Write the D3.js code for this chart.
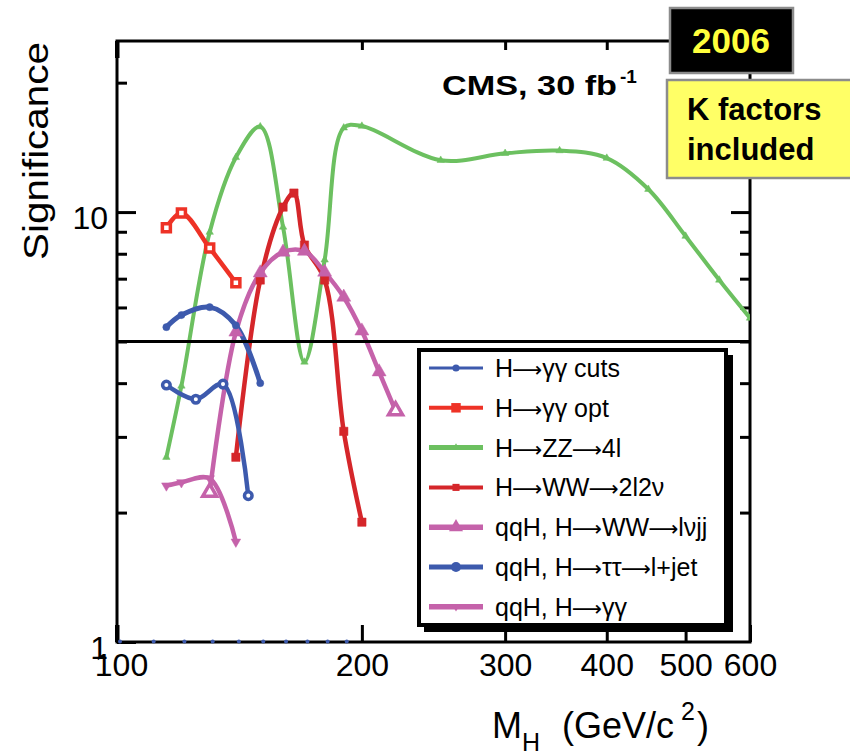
<!DOCTYPE html>
<html>
<head>
<meta charset="utf-8">
<script src="https://cdn.jsdelivr.net/npm/d3@7"></script>
<style>
  body { margin: 0; background: #fff; }
  svg { display: block; font-family: "Liberation Sans", Arial, Helvetica, sans-serif; }
</style>
</head>
<body>
<svg id="chart" width="850" height="753"></svg>
<script>
// ---- Discovery significance vs Higgs mass, CMS 30 fb^-1 ----

// H -> gamma gamma, cut-based
const massGgCuts = [115, 120, 130, 140, 150];
const sigGgCuts  = [5.40, 5.76, 6.01, 5.45, 4.00];

// H -> gamma gamma, optimised
const massGgOpt = [115, 120, 130, 140];
const sigGgOpt  = [9.2, 9.95, 8.25, 6.85];

// H -> ZZ -> 4l
const massZZ = [115, 120, 130, 140, 150, 160, 170, 180, 190, 200, 250, 300, 350, 400, 450, 500, 550, 600];
const sigZZ  = [2.69, 3.94, 8.98, 13.4, 15.8, 9.23, 4.48, 7.74, 15.7, 15.85, 13.2, 13.7, 13.9, 13.35, 11.3, 8.79, 6.95, 5.67];

// H -> WW -> 2l2nu
const massWW = [140, 150, 160, 165, 170, 180, 190, 200];
const sigWW  = [2.69, 6.95, 10.27, 11.07, 8.38, 6.95, 3.09, 1.90];

// qqH, H -> WW -> l nu jj
const massQqWW = [130, 140, 150, 160, 170, 180, 190, 200, 210, 220];
const sigQqWW  = [2.23, 5.26, 7.22, 8.07, 8.11, 7.25, 6.34, 5.29, 4.25, 3.45];

// qqH, H -> tau tau -> l + jet
const massQqTT = [115, 125, 135, 145];
const sigQqTT  = [3.96, 3.67, 3.98, 2.19];

// qqH, H -> gamma gamma
const massQqGg = [115, 120, 130, 140];
const sigQqGg  = [2.31, 2.35, 2.40, 1.71];

// points sitting on the lower edge of the plot
const massFloor = [100, 110, 120, 130, 140, 150, 160, 170, 180, 190];
const sigFloor  = [1, 1, 1, 1, 1, 1, 1, 1, 1, 1];

// axis ticks
const xTickValues = [100, 200, 300, 400, 500, 600];
const yMajorTicks = [1, 10];
const yMinorTicks = [2, 3, 4, 5, 6, 7, 8, 9, 20];
const discoveryLevel = 5;

// legend labels, split around the arrows so the arrows can be drawn long
const legendLabels = [
  ["H", "\u03b3\u03b3 cuts"],
  ["H", "\u03b3\u03b3 opt"],
  ["H", "ZZ", "4l"],
  ["H", "WW", "2l2\u03bd"],
  ["qqH, H", "WW", "l\u03bdjj"],
  ["qqH, H", "\u03c4\u03c4", "l+jet"],
  ["qqH, H", "\u03b3\u03b3"]
];

// ---- styling per series ----
const BLUE = "#3d5aad", RED = "#ee3226", GREEN = "#6cc060", DKRED = "#d5262a", MAG = "#c562aa";

const series = [
  { key: 2, m: massZZ,    s: sigZZ,    color: GREEN, lw: 4,   sym: d3.symbolTriangle, size: 24, rot: 0,   open: [],        legLw: 5,   legSize: 24 },
  { key: 3, m: massWW,    s: sigWW,    color: DKRED, lw: 4.5, sym: d3.symbolSquare,   size: 70, rot: 0,   open: [],        legLw: 4,   legSize: 50 },
  { key: 4, m: massQqWW,  s: sigQqWW,  color: MAG,   lw: 4.5, sym: d3.symbolTriangle, size: 85, rot: 0,   open: [0, 9],    legLw: 5.5, legSize: 85 },
  { key: 6, m: massQqGg,  s: sigQqGg,  color: MAG,   lw: 4.5, sym: d3.symbolTriangle, size: 40, rot: 180, open: [],        legLw: 5.5, legSize: 30 },
  { key: 5, m: massQqTT,  s: sigQqTT,  color: BLUE,  lw: 4.5, sym: d3.symbolCircle,   size: 45, rot: 0,   open: [0,1,2,3], legLw: 5,   legSize: 80 },
  { key: 0, m: massGgCuts,s: sigGgCuts,color: BLUE,  lw: 5,   sym: d3.symbolCircle,   size: 40, rot: 0,   open: [],        legLw: 3,   legSize: 40 },
  { key: 1, m: massGgOpt, s: sigGgOpt, color: RED,   lw: 4.5, sym: d3.symbolSquare,   size: 64, rot: 0,   open: [0,1,2,3], legLw: 4,   legSize: 90 }
];

// ---- geometry ----
const frame = { left: 117, right: 750, top: 41, bottom: 642 };
const x = d3.scaleLog().domain([100, 600]).range([frame.left, frame.right]);
const y = d3.scaleLog().domain([1, 25]).range([frame.bottom, frame.top]);

const svg = d3.select("#chart");

svg.append("defs").append("clipPath").attr("id", "plotClip")
  .append("rect")
  .attr("x", frame.left).attr("y", frame.top)
  .attr("width", frame.right - frame.left).attr("height", frame.bottom - frame.top);

// ---- axes ----
const bottomAxis = d3.axisBottom(x).tickValues(xTickValues)
  .tickSizeInner(-17).tickSizeOuter(0).tickPadding(11).tickFormat(d3.format("d"));
const gx = svg.append("g").attr("transform", `translate(0,${frame.bottom})`).call(bottomAxis);
gx.select(".domain").remove();
gx.selectAll(".tick line").attr("stroke", "#000").attr("stroke-width", 3);
gx.selectAll(".tick text").attr("font-size", 32).attr("fill", "#000")
  .attr("font-family", "Liberation Sans, Arial, sans-serif")
  .attr("dx", d => d === 100 ? 4 : 0);

const topAxis = d3.axisTop(x).tickValues([200, 300, 400, 500])
  .tickSizeInner(-9).tickSizeOuter(0).tickFormat("");
const gxt = svg.append("g").attr("transform", `translate(0,${frame.top})`).call(topAxis);
gxt.select(".domain").remove();
gxt.selectAll(".tick line").attr("stroke", "#000").attr("stroke-width", 3);

const leftMajor = d3.axisLeft(y).tickValues(yMajorTicks)
  .tickSizeInner(-19).tickSizeOuter(0).tickPadding(9).tickFormat(d3.format("d"));
const gy = svg.append("g").attr("transform", `translate(${frame.left},0)`).call(leftMajor);
gy.select(".domain").remove();
gy.selectAll(".tick line").attr("stroke", "#000").attr("stroke-width", 3);
gy.selectAll(".tick text").attr("font-size", 32).attr("fill", "#000").attr("dy", "0.5em")
  .attr("font-family", "Liberation Sans, Arial, sans-serif");

const leftMinor = d3.axisLeft(y).tickValues(yMinorTicks).tickSizeInner(-10).tickSizeOuter(0).tickFormat("");
const gym = svg.append("g").attr("transform", `translate(${frame.left},0)`).call(leftMinor);
gym.select(".domain").remove();
gym.selectAll(".tick line").attr("stroke", "#000").attr("stroke-width", 3);

const rightMajor = d3.axisRight(y).tickValues([10]).tickSizeInner(-19).tickSizeOuter(0).tickFormat("");
const gyr = svg.append("g").attr("transform", `translate(${frame.right},0)`).call(rightMajor);
gyr.select(".domain").remove();
gyr.selectAll(".tick line").attr("stroke", "#000").attr("stroke-width", 3);

const rightMinor = d3.axisRight(y).tickValues(yMinorTicks).tickSizeInner(-10).tickSizeOuter(0).tickFormat("");
const gyrm = svg.append("g").attr("transform", `translate(${frame.right},0)`).call(rightMinor);
gyrm.select(".domain").remove();
gyrm.selectAll(".tick line").attr("stroke", "#000").attr("stroke-width", 3);

// heavier corner marks at M = 100 on top and bottom
svg.append("rect").attr("x", frame.left - 2).attr("y", frame.top).attr("width", 4.5).attr("height", 17).attr("fill", "#000");
svg.append("rect").attr("x", frame.left - 2).attr("y", frame.bottom - 17).attr("width", 4.5).attr("height", 17).attr("fill", "#000");

// frame
svg.append("rect")
  .attr("x", frame.left).attr("y", frame.top)
  .attr("width", frame.right - frame.left).attr("height", frame.bottom - frame.top)
  .attr("fill", "none").attr("stroke", "#000").attr("stroke-width", 3);

// ---- curves ----
const plot = svg.append("g").attr("clip-path", "url(#plotClip)");
const line = d3.line()
  .x(d => x(d[0])).y(d => y(d[1]))
  .curve(d3.curveCatmullRom.alpha(0.5));

series.forEach(sr => {
  const pts = sr.m.map((m, i) => [m, sr.s[i]]);
  plot.append("path").datum(pts)
    .attr("d", line)
    .attr("fill", "none")
    .attr("stroke", sr.color)
    .attr("stroke-width", sr.lw)
    .attr("stroke-linejoin", "round")
    .attr("stroke-linecap", "round");
});

// 5 sigma line
svg.append("line")
  .attr("x1", frame.left).attr("x2", frame.right)
  .attr("y1", y(discoveryLevel)).attr("y2", y(discoveryLevel))
  .attr("stroke", "#000").attr("stroke-width", 3);

// markers
series.forEach(sr => {
  const sym = d3.symbol().type(sr.sym).size(sr.size);
  plot.selectAll(null).data(sr.m.map((m, i) => ({ m, s: sr.s[i], i })))
    .join("path")
    .attr("d", sym)
    .attr("transform", d => `translate(${x(d.m)},${y(d.s)}) rotate(${sr.rot})`)
    .attr("fill", d => sr.open.includes(d.i) ? "#fff" : sr.color)
    .attr("stroke", sr.color)
    .attr("stroke-width", d => sr.open.includes(d.i) ? 3.5 : 0.5);
});

// dots along the lower edge
svg.selectAll(null).data(massFloor.map((m, i) => ({ m, s: sigFloor[i] })))
  .join("circle")
  .attr("cx", d => x(d.m) + 3).attr("cy", d => y(d.s) - 0.5)
  .attr("r", 2).attr("fill", BLUE);

// ---- legend ----
const leg = { x: 419, y: 350, w: 307, h: 275 };
svg.append("rect").attr("x", leg.x + 5).attr("y", leg.y + 5).attr("width", leg.w + 2).attr("height", leg.h + 2).attr("fill", "#000");
svg.append("rect").attr("x", leg.x).attr("y", leg.y).attr("width", leg.w).attr("height", leg.h)
  .attr("fill", "#fff").attr("stroke", "#000").attr("stroke-width", 4);

legendLabels.forEach((parts, i) => {
  const sr = series.find(s => s.key === i);
  const cy = 368 + i * 39.8;
  const g = svg.append("g");
  g.append("line").attr("x1", 429).attr("x2", 483).attr("y1", cy).attr("y2", cy)
    .attr("stroke", sr.color).attr("stroke-width", sr.legLw);
  g.append("path").attr("d", d3.symbol().type(sr.sym).size(sr.legSize))
    .attr("transform", `translate(456,${cy}) rotate(${sr.rot})`)
    .attr("fill", sr.color);
  const t = g.append("text").attr("x", 495).attr("y", cy + 9)
    .attr("font-size", 25).attr("fill", "#000");
  parts.forEach((p, k) => {
    if (k > 0) {
      t.append("tspan").attr("font-family", "DejaVu Sans").attr("font-size", 21)
        .attr("dx", -1).text("\u27f6");
    }
    t.append("tspan").attr("dx", k > 0 ? 0 : 0).text(p);
  });
});

// ---- titles ----
svg.append("text")
  .attr("transform", "translate(48,151) rotate(-90)")
  .attr("text-anchor", "middle")
  .attr("font-size", 35)
  .attr("textLength", 218).attr("lengthAdjust", "spacingAndGlyphs")
  .text("Significance");

const xt = svg.append("g");
xt.append("text").attr("x", 492).attr("y", 738).attr("font-size", 36).text("M");
xt.append("text").attr("x", 522).attr("y", 751).attr("font-size", 25).text("H");
xt.append("text").attr("x", 562).attr("y", 738).attr("font-size", 36).text("(GeV/c");
xt.append("text").attr("x", 681).attr("y", 720).attr("font-size", 25).text("2");
xt.append("text").attr("x", 697).attr("y", 738).attr("font-size", 36).text(")");

svg.append("text").attr("x", 442).attr("y", 95)
  .attr("font-size", 28).attr("font-weight", "bold")
  .attr("textLength", 175).attr("lengthAdjust", "spacingAndGlyphs")
  .text("CMS, 30 fb");
svg.append("text").attr("x", 620).attr("y", 83)
  .attr("font-size", 19).attr("font-weight", "bold").text("-1");

// ---- boxes ----
svg.append("rect").attr("x", 670).attr("y", 8).attr("width", 123).attr("height", 65)
  .attr("fill", "#000").attr("stroke", "#8c8c8c").attr("stroke-width", 2.5);
svg.append("text").attr("x", 731).attr("y", 53).attr("text-anchor", "middle")
  .attr("font-size", 35).attr("font-weight", "bold").attr("fill", "#ffff3c").text("2006");

svg.append("rect").attr("x", 667).attr("y", 80).attr("width", 190).attr("height", 98)
  .attr("fill", "#ffff66").attr("stroke", "#8c8c8c").attr("stroke-width", 2.5);
svg.append("text").attr("x", 687).attr("y", 120)
  .attr("font-size", 31).attr("font-weight", "bold").attr("fill", "#000").text("K factors");
svg.append("text").attr("x", 687).attr("y", 160)
  .attr("font-size", 31).attr("font-weight", "bold").attr("fill", "#000").text("included");
</script>
</body>
</html>
